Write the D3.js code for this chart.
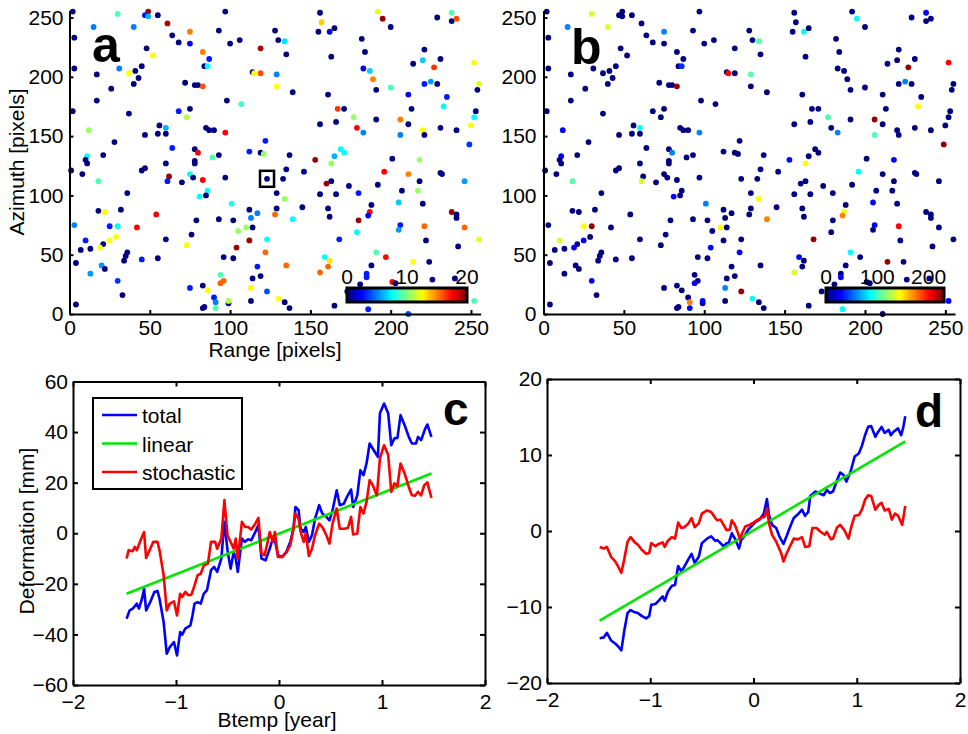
<!DOCTYPE html>
<html>
<head>
<meta charset="utf-8">
<script src="https://cdn.jsdelivr.net/npm/d3@7"></script>
<style>
body { margin: 0; background: #fff; }
text { font-family: "Liberation Sans", Arial, Helvetica, sans-serif; }
</style>
</head>
<body>
<div id="fig"></div>
<script>
// PS points: [range, azimuth, value in a (0-20), value in b (0-230)]
var psPoints = [
[2,255,0,0],[30,253,9,135],[49,255,19.5,0],[47,252,3,0],[49,251,6,0],[55,252,0,0],[97,255,0,0],
[15,242,5,58],[40,242,5,135],[61,245,19,0],[3,233,0,0],[75,238,15,58],[64,235,0,0],[93,239,0,0],
[68,229,0,0],[75,228,2.5,0],[100,228,0,0],[106,231,0,0],[128,239,0,0],[130,231,0,0],[48,224,0,0],
[83,221,15,0],[119,224,19,0],[52,218,12.5,0],[87,215,3,0],[84,209,0,0],[86,209,7.5,40],[3,207,0,0],
[31,207,5,0],[37,203,12.5,0],[41,205,0,0],[45,209,0,0],[17,202,0,0],[43,199,0,0],[40,194,0,0],
[114,204,0,0],[115,203,12.5,201],[119,203,16,0],[129,202,5,105],[129,192,12.5,0],[26,190,0,0],
[72,195,0,0],[78,193,0,0],[80,193,0,0],[83,192,16,225],[17,180,0,0],[98,180,0,0],[107,177,8.5,0],
[2,171,0,0],[37,169,0,0],[68,171,3,0],[75,173,0,0],[73,166,11,0],[12,155,10.5,29],[56,159,0,0],
[60,157,6,86],[55,152,0,0],[60,152,0,0],[47,151,0,0],[85,157,0,0],[87,155,0,0],[90,155,0,0],
[97,153,17.5,58],[28,145,0,0],[64,140,3,0],[78,139,0,0],[80,136,17.5,58],[122,146,3,0],[112,137,3,0],
[119,136,0,0],[121,135,10.5,0],[11,133,7.5,29],[21,134,0,0],[89,132,9,0],[93,134,0,0],[10,130,0,0],
[11,127,0,0],[60,127,0,0],[78,129,0,0],[78,127,0,0],
[1,121,0,0],[8,118,0,0],[45,121,0,0],[47,123,0,0],[18,112,9,105],[62,116,19.5,0],[61,112,3,135],
[70,111,0,0],[75,118,7.5,0],[77,115,0,0],[83,113,17.5,0],[97,115,0,0],[123,114,0,0],[36,102,0,0],
[86,104,7.5,0],[85,100,0,0],[81,99,7.5,29],[129,102,0,0],[101,93,8,58],[18,87,0,0],[22,86,12.5,0],
[32,88,0,0],[54,84,17.5,0],[112,88,0,0],[117,85,5,0],[129,89,0,0],[128,84,15.5,0],[79,79,0,0],
[93,80,0,0],[102,79,0,0],[113,81,5,0],[3,75,5,0],[25,74,3,144],[30,74,7.5,225],[42,73,17.5,0],
[105,70,10.5,0],[110,73,10.5,144],[114,73,0,0],[10,62,3,135],[25,62,12.5,29],[29,65,12.5,0],
[21,59,0,0],[19,56,12.5,29],[7,54,0,0],[13,55,0,0],[60,63,0,0],[76,67,0,0],[73,58,12.5,0],
[112,62,19.5,0],[104,56,19.5,29],[123,63,7.5,0],[122,52,15.5,29],[4,43,0,0],[36,52,0,0],[35,49,0,0],
[34,45,0,0],[45,46,3,0],[55,47,0,0],[96,48,0,0],[102,47,0,0],[20,41,5.5,0],[22,38,0,0],[13,34,5.5,0],
[117,40,3,0],[114,30,0,0],[119,32,0,0],[30,28,3.5,29],[94,33,9,0],[96,28,15.5,0],[94,26,15.5,29],
[83,24,0,0],[75,22,3,0],[86,20,12.5,0],[113,22,12.5,58],[123,19,4,225],[130,13,12.5,86],[33,16,0,0],
[90,14,3,0],[91,10,5,172],[91,5,9,29],[99,9,0,0],[99,11,11,29],[113,11,0,0],[83,5,0,0],[84,6,0,0],
[4,8,0,0],
[156,254,0,0],[157,246,13.5,0],[155,238,0,0],[162,238,2.5,86],[165,241,0,0],[134,230,7,105],
[135,219,0,0],[192,255,12,0],[195,249,19.5,86],[200,242,0,0],[182,232,0,0],[184,221,0,0],
[163,217,0,0],[229,250,0,0],[238,254,9,29],[238,247,0,0],[241,249,16,0],[221,223,0,0],
[220,214,6.5,0],[214,211,0,0],[231,215,0,0],[227,208,16.5,225],[252,212,12.5,201],[139,187,0,0],
[183,207,2.5,0],[187,205,6.5,0],[189,198,15,0],[161,185,0,0],[191,189,0,0],[200,191,9,0],
[221,194,3,0],[225,196,5.5,58],[229,194,0,0],[255,194,12,0],[254,189,0,0],[211,185,2.5,0],
[235,183,3,0],[233,175,7.5,144],[167,173,16.5,0],[171,173,0,0],[213,173,0,0],[253,171,0,0],
[252,166,7.5,0],[156,160,0,0],[166,162,0,0],[177,166,10.5,105],[191,164,0,0],[179,157,17.5,0],
[183,153,5,58],[206,164,15,225],[211,160,0,0],[206,151,5,105],[220,155,12.5,0],[221,151,0,0],
[231,157,0,0],[241,155,0,0],[250,159,12.5,0],[249,143,3.5,225],[169,139,7.5,0],[171,136,7.5,0],
[165,133,6,0],[137,134,0,0],[153,130,19.5,29],[163,127,10.5,144],[201,131,0,0],[218,130,10.5,29],
[135,122,0,0],[133,114,0,0],[146,120,0,0],[134,97,10.5,144],[139,80,7.5,172],[145,90,0,0],
[160,110,19.5,0],[163,112,0,0],[156,101,0,0],[166,101,0,0],[161,89,0,0],[162,82,0,0],[174,108,0,0],
[180,102,3,0],[192,109,0,0],[196,120,17.5,86],[188,92,0,0],[187,86,17.5,144],[186,83,2.5,172],
[180,79,19.5,0],[179,69,7.5,0],[168,63,3,225],[211,118,15,0],[218,112,0,0],[217,104,10.5,0],
[207,104,0,0],[205,94,6.5,29],[220,93,0,0],[206,75,3,29],[205,71,5.5,0],[221,74,15.5,201],
[222,62,0,0],[231,119,0,0],[232,118,0,0],[246,112,5.5,0],[238,86,19.5,0],[241,84,0,0],[241,81,0,0],
[246,73,15.5,0],[255,63,12,0],[242,57,0,0],[191,52,9,86],[197,48,17.5,0],[159,48,7.5,29],
[162,45,13,0],[161,40,15.5,0],[135,41,15.5,0],[156,35,15.5,135],[188,41,0,0],[185,34,3,0],
[185,31,3,29],[181,25,0,0],[214,44,12.5,225],[224,44,0,0],[226,29,0,0],[201,27,17.5,0],[203,26,0,0],
[240,30,0,0],[173,19,0,0],[134,10,0,0],[137,5,0,0],[165,7,0,0],[186,4,3,86],[211,0,4,0],[252,11,9,29]
];
var markedPoint = [123, 114];
var mapTicks = [0, 50, 100, 150, 200, 250];
var cbarTicksA = [0, 10, 20];
var cbarTicksB = [0, 100, 200];

// time series: [Btemp (year), deformation (mm)]
var totalC = [[-1.48,-33.8],[-1.45,-30.5],[-1.42,-29.8],[-1.38,-27.8],[-1.36,-29.8],[-1.33,-25.9],[-1.31,-21.9],
[-1.29,-30.5],[-1.25,-27.2],[-1.21,-23.2],[-1.18,-22.8],[-1.16,-25.9],[-1.12,-35.1],[-1.09,-47.6],[-1.06,-45.0],
[-1.02,-43.0],[-0.99,-48.3],[-0.96,-39.1],[-0.94,-40.1],[-0.91,-37.7],[-0.86,-36.4],[-0.84,-32.5],[-0.82,-27.8],
[-0.79,-27.2],[-0.76,-27.8],[-0.73,-23.9],[-0.70,-22.6],[-0.66,-14.6],[-0.63,-13.3],[-0.60,-15.3],[-0.56,-10.0],
[-0.53,4.5],[-0.50,-6.7],[-0.47,-14.0],[-0.44,-7.4],[-0.42,-10.0],[-0.40,-15.3],[-0.36,-2.1],[-0.33,-3.4],
[-0.30,-2.4],[-0.27,-2.8],[-0.23,0.5],[-0.20,3.2],[-0.17,-10.0],[-0.13,-10.7],[-0.09,-6.1],[-0.07,-3.4],
[-0.04,-2.8],[-0.01,-8.7],[0.03,-9.4],[0.07,-7.4],[0.11,-3.4],[0.14,1.8],[0.16,10.4],[0.19,9.1],[0.21,1.8],
[0.24,0.5],[0.26,2.5],[0.29,-3.4],[0.32,-0.8],[0.35,5.8],[0.39,11.1],[0.42,7.8],[0.46,6.5],[0.49,5.1],
[0.52,9.1],[0.56,17.0],[0.59,11.1],[0.63,11.7],[0.66,14.4],[0.70,17.3],[0.72,10.4],[0.76,15.0],[0.79,24.9],
[0.82,23.0],[0.85,27.6],[0.88,35.5],[0.92,32.8],[0.96,30.2],[0.98,47.4],[1.02,51.3],[1.06,47.4],[1.09,34.8],
[1.12,37.5],[1.15,37.7],[1.18,46.7],[1.22,42.7],[1.26,38.1],[1.29,35.5],[1.33,35.5],[1.35,38.1],[1.38,36.8],
[1.42,41.4],[1.44,43.0],[1.48,38.1]];
var stochC = [[-1.48,-10.0],[-1.46,-6.7],[-1.42,-7.1],[-1.40,-5.4],[-1.38,-6.7],[-1.35,-3.4],[-1.31,0.5],
[-1.29,-9.8],[-1.25,-6.1],[-1.22,-3.4],[-1.18,-3.4],[-1.16,-6.7],[-1.12,-16.6],[-1.09,-30.5],[-1.06,-27.8],
[-1.02,-26.9],[-0.99,-32.5],[-0.96,-23.9],[-0.94,-25.2],[-0.91,-23.2],[-0.88,-24.5],[-0.85,-24.3],[-0.82,-20.6],
[-0.79,-16.6],[-0.76,-16.0],[-0.73,-12.7],[-0.69,-12.0],[-0.66,-3.4],[-0.62,-3.4],[-0.60,-6.1],[-0.56,-2.1],
[-0.53,13.1],[-0.50,-0.8],[-0.47,-3.4],[-0.44,-6.1],[-0.42,-2.1],[-0.40,-10.0],[-0.36,4.5],[-0.33,2.5],
[-0.30,2.5],[-0.27,1.5],[-0.23,3.8],[-0.20,6.1],[-0.17,-8.0],[-0.14,-8.7],[-0.11,-3.4],[-0.09,0.5],
[-0.06,-3.4],[-0.04,0.5],[-0.01,-9.4],[0.03,-9.4],[0.07,-7.7],[0.11,-4.7],[0.14,1.8],[0.16,7.8],[0.19,5.8],
[0.21,0.5],[0.24,-3.4],[0.26,-0.1],[0.29,-9.0],[0.32,-6.1],[0.35,-0.8],[0.39,3.8],[0.42,2.5],[0.46,-0.8],
[0.49,-4.1],[0.52,3.8],[0.56,9.8],[0.59,1.8],[0.63,1.8],[0.67,2.1],[0.70,6.5],[0.72,-0.5],[0.76,-0.1],
[0.79,10.4],[0.82,7.8],[0.85,12.4],[0.88,21.0],[0.91,19.0],[0.95,15.0],[0.98,29.6],[1.02,34.8],[1.06,30.9],
[1.09,16.4],[1.12,19.7],[1.15,18.7],[1.18,27.6],[1.22,23.6],[1.26,18.3],[1.29,15.0],[1.32,14.8],[1.35,16.4],
[1.38,15.0],[1.41,19.0],[1.44,20.1],[1.48,14.0]];
var linearC = [[-1.48,-23.9],[1.48,23.6]];

var totalD = [[-1.49,-14.1],[-1.45,-14.0],[-1.42,-13.4],[-1.38,-14.4],[-1.34,-14.8],[-1.31,-15.2],[-1.28,-15.7],
[-1.25,-13.0],[-1.22,-10.8],[-1.19,-10.4],[-1.15,-10.7],[-1.12,-10.8],[-1.08,-11.2],[-1.04,-11.5],[-1.01,-11.2],
[-0.99,-9.7],[-0.95,-9.6],[-0.92,-9.2],[-0.88,-8.6],[-0.86,-9.2],[-0.83,-8.0],[-0.79,-7.2],[-0.76,-7.1],
[-0.73,-4.6],[-0.70,-5.3],[-0.67,-4.7],[-0.63,-3.7],[-0.60,-3.0],[-0.57,-4.2],[-0.53,-3.4],[-0.50,-1.6],
[-0.45,-1.0],[-0.41,-0.7],[-0.37,-1.3],[-0.35,-1.2],[-0.32,-1.6],[-0.29,-2.0],[-0.26,-1.6],[-0.24,-1.6],
[-0.21,-0.3],[-0.18,-1.0],[-0.14,-2.3],[-0.12,-1.2],[-0.09,-0.7],[-0.05,0.2],[-0.02,0.6],[0.02,1.2],
[0.06,1.5],[0.10,2.3],[0.13,4.2],[0.15,2.1],[0.18,0.8],[0.22,0.4],[0.25,-0.7],[0.29,-1.7],[0.32,-0.7],
[0.35,0.4],[0.39,1.7],[0.43,2.2],[0.47,2.8],[0.50,2.0],[0.53,2.5],[0.55,4.6],[0.60,5.2],[0.63,5.0],
[0.68,4.7],[0.71,5.4],[0.74,5.0],[0.77,5.2],[0.81,6.7],[0.84,7.7],[0.87,7.4],[0.90,6.5],[0.94,7.8],
[0.98,9.8],[1.02,10.2],[1.05,11.2],[1.08,12.6],[1.11,13.7],[1.14,13.8],[1.18,12.4],[1.21,13.1],[1.24,13.7],
[1.27,12.9],[1.31,13.3],[1.33,12.6],[1.36,13.1],[1.40,13.5],[1.43,12.6],[1.45,13.6],[1.47,15.1]];
var stochD = [[-1.49,-2.1],[-1.45,-2.3],[-1.42,-2.1],[-1.38,-3.4],[-1.34,-4.0],[-1.31,-4.7],[-1.28,-5.5],
[-1.25,-3.6],[-1.22,-1.4],[-1.19,-0.8],[-1.15,-1.5],[-1.12,-1.8],[-1.08,-2.5],[-1.04,-3.0],[-1.01,-2.9],
[-0.99,-1.6],[-0.95,-2.0],[-0.92,-1.7],[-0.88,-1.5],[-0.86,-2.1],[-0.83,-1.3],[-0.79,-0.8],[-0.76,-1.0],
[-0.73,1.1],[-0.70,0.4],[-0.67,0.5],[-0.63,1.0],[-0.60,1.7],[-0.57,0.5],[-0.53,1.0],[-0.50,2.3],
[-0.45,2.7],[-0.41,2.5],[-0.37,1.7],[-0.35,1.4],[-0.32,1.5],[-0.29,0.8],[-0.26,0.1],[-0.23,0.2],
[-0.21,1.4],[-0.18,0.8],[-0.15,-0.3],[-0.13,-1.1],[-0.11,-0.3],[-0.08,0.6],[-0.04,0.8],[0.00,1.1],
[0.03,1.4],[0.07,1.7],[0.11,1.9],[0.13,3.0],[0.15,1.0],[0.18,-0.5],[0.22,-1.4],[0.27,-3.0],[0.29,-4.0],
[0.32,-3.0],[0.35,-2.1],[0.39,-1.0],[0.43,-1.1],[0.47,-0.8],[0.50,-2.1],[0.54,-2.0],[0.57,0.4],[0.61,0.4],
[0.64,0.0],[0.69,-0.5],[0.71,-0.1],[0.75,-1.1],[0.77,-1.0],[0.81,0.5],[0.84,0.8],[0.88,0.1],[0.92,-1.0],
[0.95,0.7],[0.98,2.0],[1.02,2.1],[1.05,2.8],[1.08,4.1],[1.11,4.7],[1.14,4.6],[1.18,2.8],[1.21,3.4],
[1.24,3.7],[1.27,2.7],[1.31,2.9],[1.34,1.5],[1.37,2.3],[1.40,2.0],[1.44,0.8],[1.47,3.3]];
var linearD = [[-1.49,-11.8],[1.47,11.8]];

var yearTicks = [-2, -1, 0, 1, 2];
var legendLabels = ["total", "linear", "stochastic"];
var seriesColors = ["#0000ff", "#00e600", "#ff0000"];

var W = 968, H = 734;
var FONT = 21;
var svg = d3.select("#fig").append("svg").attr("width", W).attr("height", H);
svg.append("rect").attr("width", W).attr("height", H).attr("fill", "#fff");

//matlab jet colormap
function jet(t) {
    t = Math.max(0, Math.min(1, t));
    function c(v) { return Math.round(255 * Math.max(0, Math.min(1, v))); }
    return "rgb(" + c(1.5 - Math.abs(4 * t - 3)) + "," + c(1.5 - Math.abs(4 * t - 2)) + "," + c(1.5 - Math.abs(4 * t - 1)) + ")";
}
var defs = svg.append("defs");
var jetGrad = defs.append("linearGradient").attr("id", "jetGrad");
jetGrad.selectAll("stop").data(d3.range(0, 1.0001, 1 / 32)).enter().append("stop")
    .attr("offset", function(d) { return d; })
    .attr("stop-color", function(d) { return jet(d); });

var intFmt = d3.format("d");

function styleAxis(g, showText) {
    g.attr("font-size", FONT).attr("font-family", "Liberation Sans, Arial, sans-serif");
    g.select(".domain").attr("stroke", "#000").attr("stroke-width", 2);
    g.selectAll(".tick line").attr("stroke", "#000").attr("stroke-width", 2);
    g.selectAll(".tick text").attr("fill", "#000");
    if (!showText) g.selectAll(".tick text").remove();
}

function panelLetter(label, x, y, size) {
    svg.append("text").attr("x", x).attr("y", y).attr("font-size", size)
        .attr("font-weight", "bold").attr("fill", "#000").text(label);
}

// map panels a and b
function mapPanel(left, right, col, cmax, cbar, cbarTicks, yPad) {
    var x = d3.scaleLinear().domain([0, 256]).range([left, right]);
    var y = d3.scaleLinear().domain([0, 256]).range([314, 10.4]);
    var g = svg.append("g");
    g.selectAll("circle").data(psPoints).enter().append("circle")
        .attr("cx", function(d) { return x(d[0]); })
        .attr("cy", function(d) { return y(d[1]); })
        .attr("r", 2.9)
        .attr("fill", function(d) { return jet(d[col] / cmax); });

    g.append("g").attr("transform", "translate(0,314)")
        .call(d3.axisBottom(x).tickValues(mapTicks).tickSizeInner(-4).tickSizeOuter(0).tickPadding(6))
        .call(styleAxis, true);
    g.append("g").attr("transform", "translate(" + left + ",0)")
        .call(d3.axisLeft(y).tickValues(mapTicks).tickSizeInner(-4).tickSizeOuter(0).tickPadding(yPad))
        .call(styleAxis, true);

    // colorbar
    var cx = d3.scaleLinear().domain([0, cmax]).range([cbar[0], cbar[1]]);
    g.append("rect").attr("x", cbar[0]).attr("y", 288).attr("width", cbar[1] - cbar[0]).attr("height", 14)
        .attr("fill", "url(#jetGrad)").attr("stroke", "#000").attr("stroke-width", 3);
    g.selectAll("text.cb").data(cbarTicks).enter().append("text").attr("class", "cb")
        .attr("x", function(d) { return cx(d); }).attr("y", 284)
        .attr("text-anchor", "middle").attr("font-size", FONT).attr("fill", "#000")
        .text(function(d) { return d; });
    return { x: x, y: y };
}

var pa = mapPanel(69.5, 480.6, 2, 20, [347, 467], cbarTicksA, 6);
var pb = mapPanel(543.5, 955, 3, 230, [826, 944], cbarTicksB, 7);

// square around selected point
svg.append("rect")
    .attr("x", pa.x(markedPoint[0]) - 7).attr("y", pa.y(markedPoint[1]) - 8)
    .attr("width", 14).attr("height", 16)
    .attr("fill", "none").attr("stroke", "#000").attr("stroke-width", 2.5);

svg.append("text").attr("x", 275).attr("y", 357).attr("text-anchor", "middle")
    .attr("font-size", FONT).attr("fill", "#000").text("Range [pixels]");
svg.append("text").attr("transform", "translate(24,162) rotate(-90)").attr("text-anchor", "middle")
    .attr("font-size", FONT).attr("fill", "#000").text("Azimuth [pixels]");
panelLetter("a", 92, 62, 50);
panelLetter("b", 571, 64, 50);

// time series panels c and d
function seriesPanel(left, right, top, bottom, ymax, yTicks, series) {
    var x = d3.scaleLinear().domain([-2, 2]).range([left, right]);
    var y = d3.scaleLinear().domain([-ymax, ymax]).range([bottom, top]);
    var g = svg.append("g");
    g.append("g").attr("transform", "translate(0," + bottom + ")")
        .call(d3.axisBottom(x).tickValues(yearTicks).tickFormat(intFmt).tickSizeInner(-5).tickSizeOuter(0).tickPadding(9))
        .call(styleAxis, true);
    g.append("g").attr("transform", "translate(0," + top + ")")
        .call(d3.axisTop(x).tickValues(yearTicks).tickSizeInner(-5).tickSizeOuter(0))
        .call(styleAxis, false);
    g.append("g").attr("transform", "translate(" + left + ",0)")
        .call(d3.axisLeft(y).tickValues(yTicks).tickFormat(intFmt).tickSizeInner(-5).tickSizeOuter(0).tickPadding(5))
        .call(styleAxis, true);
    g.append("g").attr("transform", "translate(" + right + ",0)")
        .call(d3.axisRight(y).tickValues(yTicks).tickSizeInner(-5).tickSizeOuter(0))
        .call(styleAxis, false);

    var line = d3.line().x(function(d) { return x(d[0]); }).y(function(d) { return y(d[1]); });
    series.forEach(function(s, i) {
        g.append("path").datum(s).attr("d", line).attr("fill", "none")
            .attr("stroke", seriesColors[i]).attr("stroke-width", 2.6)
            .attr("stroke-linejoin", "round");
    });
    return g;
}

var gc = seriesPanel(73, 485, 381.5, 685, 60, [-60, -40, -20, 0, 20, 40, 60], [totalC, linearC, stochC]);
seriesPanel(547, 960, 379, 683, 20, [-20, -10, 0, 10, 20], [totalD, linearD, stochD]);

// legend
var leg = gc.append("g");
leg.append("rect").attr("x", 93).attr("y", 398).attr("width", 149).attr("height", 91)
    .attr("fill", "#fff").attr("stroke", "#000").attr("stroke-width", 2);
var legItems = leg.selectAll("g.item").data(legendLabels).enter().append("g").attr("class", "item");
legItems.append("line")
    .attr("x1", 102).attr("x2", 137)
    .attr("y1", function(d, i) { return 415 + i * 28.5; })
    .attr("y2", function(d, i) { return 415 + i * 28.5; })
    .attr("stroke", function(d, i) { return seriesColors[i]; }).attr("stroke-width", 2.6);
legItems.append("text")
    .attr("x", 142).attr("y", function(d, i) { return 423 + i * 28.5; })
    .attr("font-size", FONT).attr("fill", "#000")
    .text(function(d) { return d; });

svg.append("text").attr("x", 277).attr("y", 727).attr("text-anchor", "middle")
    .attr("font-size", FONT).attr("fill", "#000").text("Btemp [year]");
svg.append("text").attr("transform", "translate(34,531) rotate(-90)").attr("text-anchor", "middle")
    .attr("font-size", FONT).attr("fill", "#000").text("Deformation [mm]");
panelLetter("c", 443, 425, 46);
panelLetter("d", 915, 427, 46);
</script>
</body>
</html>
